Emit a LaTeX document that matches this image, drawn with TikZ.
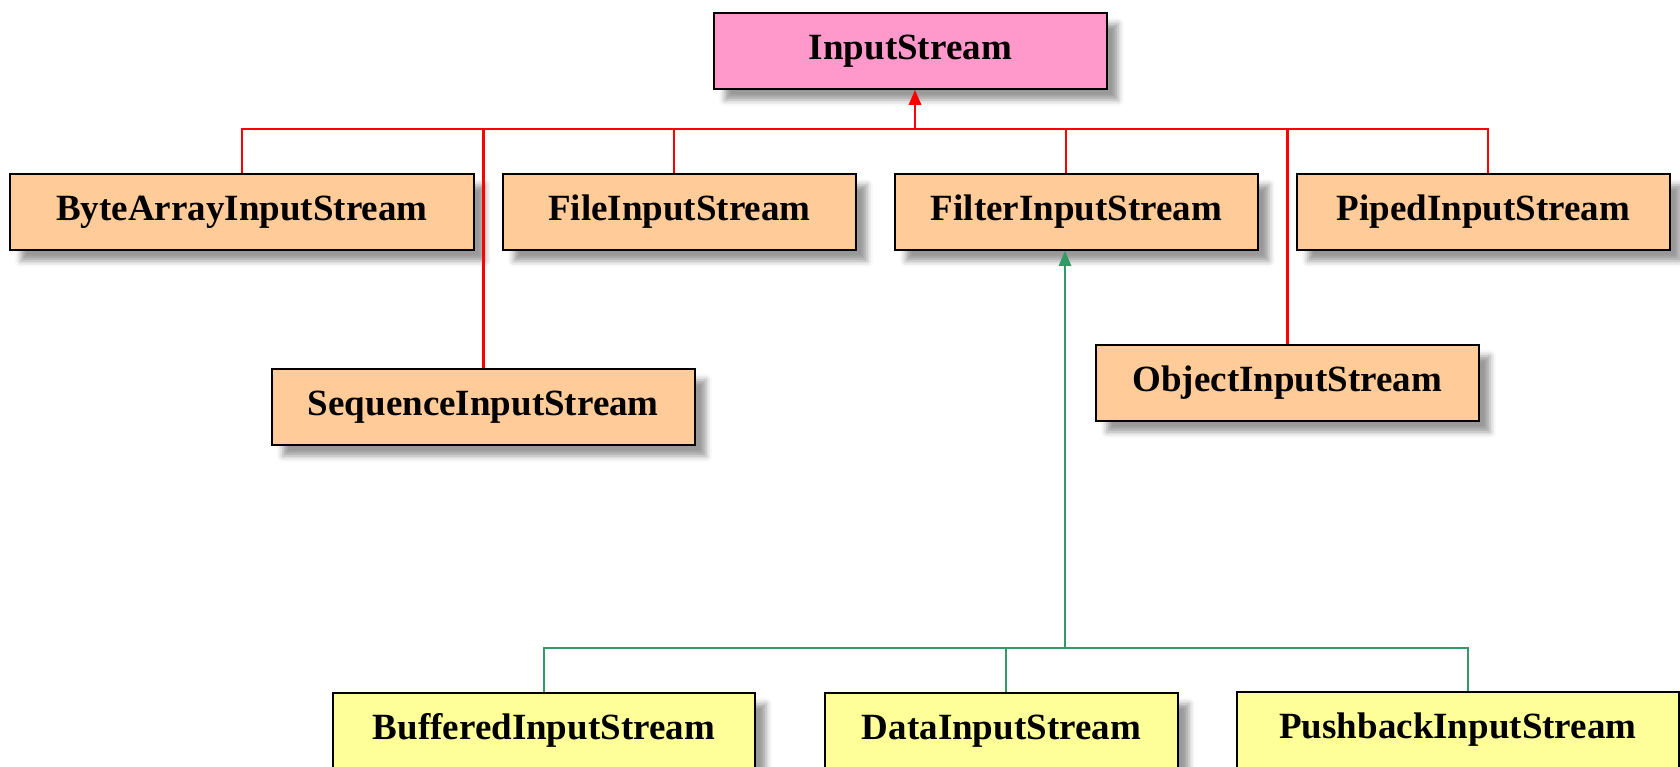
\documentclass[tikz,border=0pt]{standalone}
\usepackage{fontspec}
\setmainfont{Liberation Serif}
\usetikzlibrary{arrows.meta,shadows.blur}

\definecolor{rootfill}{HTML}{FF99CC}
\definecolor{classfill}{HTML}{FFCC99}
\definecolor{filterfill}{HTML}{FFFF99}
\definecolor{inhred}{HTML}{FF0000}
\definecolor{inhgreen}{HTML}{339966}

\tikzset{
  classbox/.style={rectangle, draw=black, line width=1.8pt, anchor=north west,
    minimum height=76pt, inner sep=0pt, text height=25pt, text depth=8pt,
    font=\fontsize{37}{44}\selectfont\bfseries,
    blur shadow={shadow xshift=11pt, shadow yshift=-11pt,
      shadow blur radius=6pt, shadow opacity=40}},
  redline/.style={draw=inhred, line width=2.8pt},
  greenline/.style={draw=inhgreen, line width=2.6pt},
  redhead/.style={-{Triangle[length=15pt,width=12pt]}},
}

\begin{document}
\begin{tikzpicture}[x=1pt, y=-1pt]
  \useasboundingbox (0,0) rectangle (1680,766);

  % root class
  \node[classbox, fill=rootfill, minimum width=393pt] (in) at (713,12) {InputStream};

  % direct subclasses
  \node[classbox, fill=classfill, minimum width=464pt] (byte) at (9,173) {ByteArrayInputStream};
  \node[classbox, fill=classfill, minimum width=353pt] (file) at (502,173) {FileInputStream};
  \node[classbox, fill=classfill, minimum width=363pt] (filt) at (894,173) {FilterInputStream};
  \node[classbox, fill=classfill, minimum width=373pt] (pipe) at (1296,173) {PipedInputStream};
  \node[classbox, fill=classfill, minimum width=423pt] (seq) at (271,368) {SequenceInputStream};
  \node[classbox, fill=classfill, minimum width=383pt] (obj) at (1095,344) {ObjectInputStream};

  % filter subclasses
  \node[classbox, fill=filterfill, minimum width=422pt] (buf) at (332,692) {BufferedInputStream};
  \node[classbox, fill=filterfill, minimum width=353pt] (data) at (824,692) {DataInputStream};
  \node[classbox, fill=filterfill, minimum width=442pt] (push) at (1236,691) {PushbackInputStream};

  % junction points of the two inheritance trees
  \coordinate (bus) at (915,129);
  \coordinate (gbus) at (1065,648);

  % InputStream tree
  \draw[redline] (byte.north) |- (bus);
  \draw[redline] (seq.north) |- (bus);
  \draw[redline] ([xshift=-5.5pt]file.north) |- (bus);
  \draw[redline] ([xshift=-10.5pt]filt.north) |- (bus);
  \draw[redline] (obj.north) |- (bus);
  \draw[redline] ([xshift=4.5pt]pipe.north) |- (bus);
  \draw[redline, redhead] (bus) -- (bus |- in.south);

  % FilterInputStream tree
  \draw[greenline] (buf.north) |- (gbus);
  \draw[greenline] ([xshift=4.5pt]data.north) |- (gbus);
  \draw[greenline] ([xshift=10pt]push.north) |- (gbus);
  \draw[greenline, -{Triangle[length=15pt,width=12pt]}] (gbus) -- (gbus |- filt.south);
\end{tikzpicture}
\end{document}
